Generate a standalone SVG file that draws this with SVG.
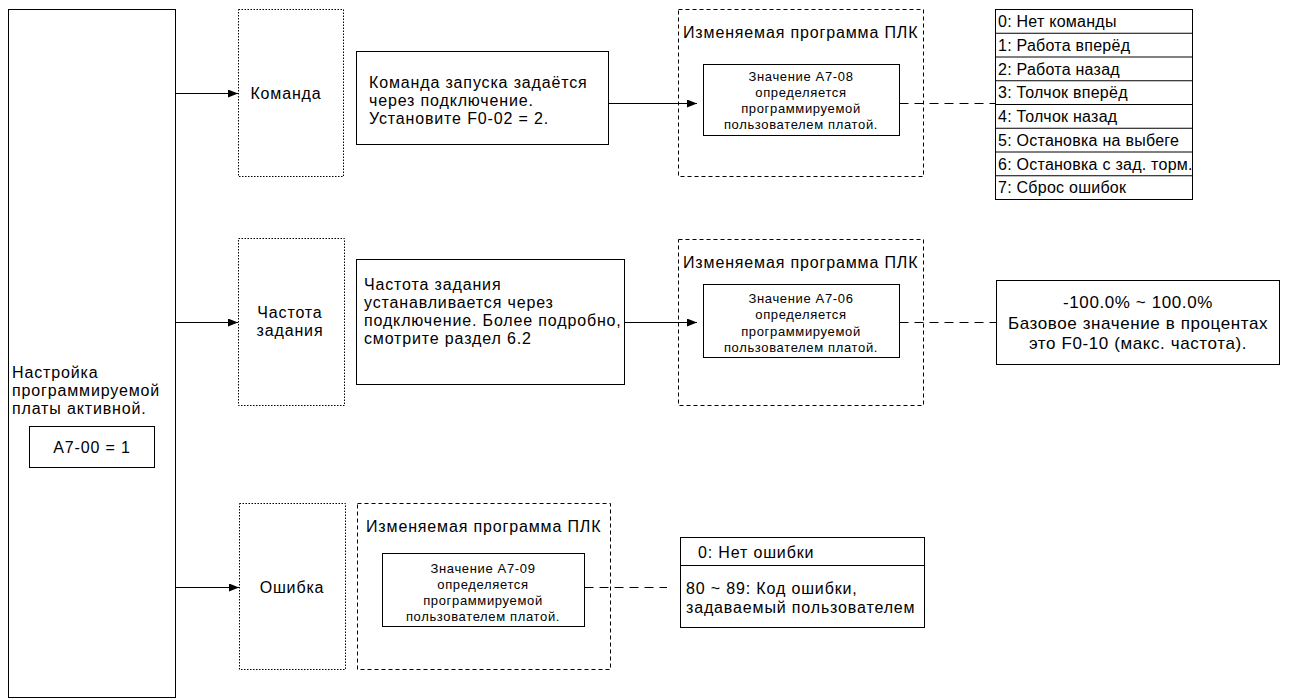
<svg xmlns="http://www.w3.org/2000/svg" width="1289" height="699" viewBox="0 0 1289 699">
<defs>
<style>
text{font-family:"Liberation Sans",Arial,sans-serif;fill:#000}
.t{font-size:16px;letter-spacing:0.85px}
.b{font-size:17px;letter-spacing:0.6px}
.l{font-size:16px;letter-spacing:0.25px}
.s{font-size:13px;letter-spacing:0.65px}
.m{text-anchor:middle}
.box{fill:#fff;stroke:#000;stroke-width:1}
.dot{fill:none;stroke:#000;stroke-width:1;stroke-dasharray:1.5 1.5}
.dsh{fill:none;stroke:#000;stroke-width:1;stroke-dasharray:4 3}
.ln{fill:none;stroke:#000;stroke-width:1}
.dl{fill:none;stroke:#000;stroke-width:1;stroke-dasharray:9 6}
</style>
<marker id="ah" markerWidth="10" markerHeight="8" refX="10" refY="4" orient="auto" markerUnits="userSpaceOnUse">
<path d="M0,0 L10,4 L0,8 Z" fill="#000"/>
</marker>
</defs>
<rect width="1289" height="699" fill="#fff"/>

<g id="setup">
<rect class="box" x="8.5" y="9.5" width="167" height="688"/>
<text class="t" x="12" y="378">Настройка</text>
<text class="t" x="12" y="396">программируемой</text>
<text class="t" x="12" y="414">платы активной.</text>
<rect class="box" x="29.5" y="426.5" width="125" height="41"/>
<text class="t m" x="92" y="453">A7-00 = 1</text>
</g>

<g id="cmd-label">
<rect class="dot" x="238.5" y="9.5" width="105" height="167"/>
<text class="t m" x="286" y="99">Команда</text>
</g>
<g id="freq-label">
<rect class="dot" x="238.5" y="238.5" width="106" height="167"/>
<text class="t m" x="290" y="318">Частота</text>
<text class="t m" x="290" y="336">задания</text>
</g>
<g id="err-label">
<rect class="dot" x="239.5" y="503.5" width="106" height="166"/>
<text class="t m" x="292" y="593">Ошибка</text>
</g>

<g id="cmd-desc">
<rect class="box" x="356.5" y="51.5" width="252" height="93"/>
<text class="t" x="369" y="88">Команда запуска задаётся</text>
<text class="t" x="369" y="106">через подключение.</text>
<text class="t" x="369" y="124">Установите F0-02 = 2.</text>
</g>
<g id="freq-desc">
<rect class="box" x="356.5" y="259.5" width="268" height="125"/>
<text class="t" x="364" y="290">Частота задания</text>
<text class="t" x="364" y="308">устанавливается через</text>
<text class="t" x="364" y="326">подключение. Более подробно,</text>
<text class="t" x="364" y="344">смотрите раздел 6.2</text>
</g>

<g id="plc-cmd">
<rect class="dsh" x="678.5" y="9.5" width="245" height="167"/>
<text class="t" x="683" y="38">Изменяемая программа ПЛК</text>
<rect class="box" x="703.5" y="64.5" width="196" height="71"/>
<text class="s m" x="801" y="81">Значение A7-08</text>
<text class="s m" x="801" y="97">определяется</text>
<text class="s m" x="801" y="113">программируемой</text>
<text class="s m" x="801" y="129">пользователем платой.</text>
</g>
<g id="plc-freq">
<rect class="dsh" x="678.5" y="239.5" width="245" height="166"/>
<text class="t" x="683" y="268">Изменяемая программа ПЛК</text>
<rect class="box" x="703.5" y="284.5" width="196" height="73"/>
<text class="s m" x="801" y="303">Значение A7-06</text>
<text class="s m" x="801" y="319">определяется</text>
<text class="s m" x="801" y="335.5">программируемой</text>
<text class="s m" x="801" y="352">пользователем платой.</text>
</g>
<g id="plc-err">
<rect class="dsh" x="357.5" y="503.5" width="253" height="166"/>
<text class="t" x="366" y="532">Изменяемая программа ПЛК</text>
<rect class="box" x="382.5" y="553.5" width="202" height="73"/>
<text class="s m" x="483" y="573">Значение A7-09</text>
<text class="s m" x="483" y="588.5">определяется</text>
<text class="s m" x="483" y="604.5">программируемой</text>
<text class="s m" x="483" y="620.5">пользователем платой.</text>
</g>

<g id="cmd-list">
<rect class="box" x="995.5" y="9.5" width="197" height="190"/>
<path class="ln" d="M995.5,33.25H1192.5M995.5,57H1192.5M995.5,80.75H1192.5M995.5,104.5H1192.5M995.5,128.25H1192.5M995.5,152H1192.5M995.5,175.75H1192.5"/>
<text class="l" x="998" y="27">0: Нет команды</text>
<text class="l" x="998" y="50.75">1: Работа вперёд</text>
<text class="l" x="998" y="74.5">2: Работа назад</text>
<text class="l" x="998" y="98.25">3: Толчок вперёд</text>
<text class="l" x="998" y="122">4: Толчок назад</text>
<text class="l" x="998" y="145.75">5: Остановка на выбеге</text>
<text class="l" x="998" y="169.5">6: Остановка с зад. торм.</text>
<text class="l" x="998" y="193.25">7: Сброс ошибок</text>
</g>

<g id="freq-range">
<rect class="box" x="996.5" y="280.5" width="283" height="84"/>
<text class="b m" x="1138" y="307.5">-100.0% ~ 100.0%</text>
<text class="b m" x="1138" y="328.5">Базовое значение в процентах</text>
<text class="b m" x="1138" y="348.5">это F0-10 (макс. частота).</text>
</g>

<g id="err-list">
<rect class="box" x="680.5" y="537.5" width="244" height="90"/>
<path class="ln" d="M680.5,565.5H924.5"/>
<text class="t" x="698" y="557.5">0: Нет ошибки</text>
<text class="t" x="686" y="593.5">80 ~ 89: Код ошибки,</text>
<text class="t" x="686" y="612.5">задаваемый пользователем</text>
</g>

<g id="connectors">
<path class="ln" d="M175.5,93.5H238" marker-end="url(#ah)"/>
<path class="ln" d="M175.5,322.5H238" marker-end="url(#ah)"/>
<path class="ln" d="M175.5,587.5H239" marker-end="url(#ah)"/>
<path class="ln" d="M608.5,103.5H697" marker-end="url(#ah)"/>
<path class="ln" d="M624.5,322.5H697" marker-end="url(#ah)"/>
<path class="dl" d="M899.5,103.5H995.5"/>
<path class="dl" d="M899.5,322.5H996.5"/>
<path class="dl" d="M584.5,587.5H667"/>
</g>
</svg>
